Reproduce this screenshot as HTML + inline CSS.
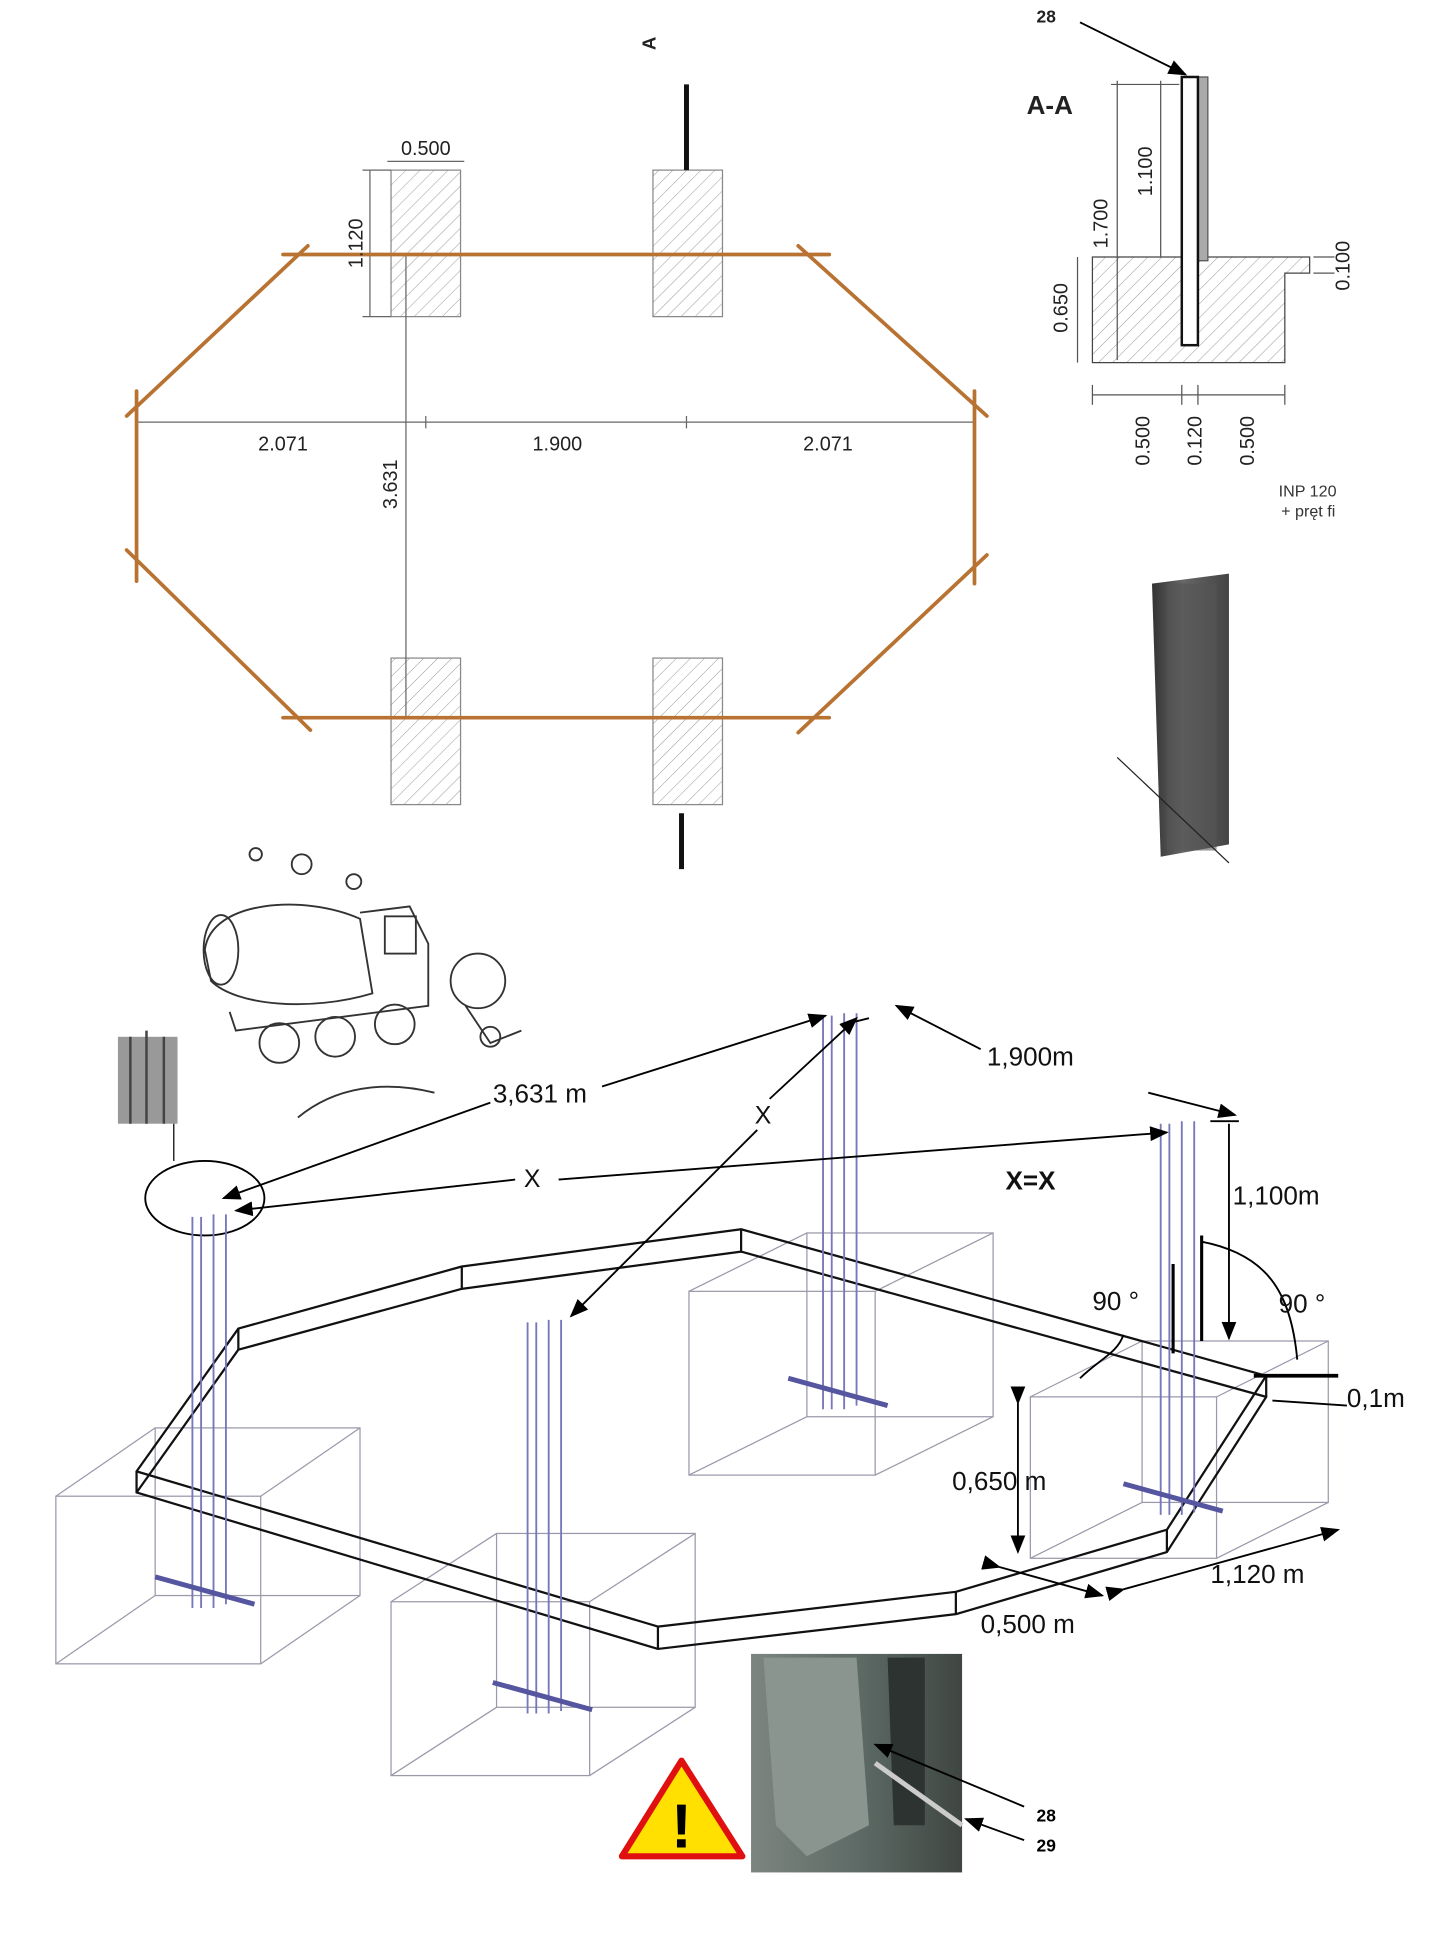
<!DOCTYPE html>
<html><head><meta charset="utf-8"><style>
html,body{margin:0;padding:0;background:#fff;}
svg{display:block;}
text{font-family:"Liberation Sans",sans-serif;}
</style></head><body>
<svg width="1440" height="1937" viewBox="0 0 1160 1560" preserveAspectRatio="none" xmlns="http://www.w3.org/2000/svg">
<defs>
<pattern id="h" width="8" height="8" patternUnits="userSpaceOnUse" patternTransform="rotate(45)">
<line x1="0" y1="0" x2="0" y2="8" stroke="#999" stroke-width="0.8"/></pattern>
<marker id="ar" markerWidth="10" markerHeight="8" refX="9" refY="4" orient="auto"><path d="M0,0 L10,4 L0,8 z" fill="#000"/></marker>
<linearGradient id="ph" x1="0" x2="1"><stop offset="0" stop-color="#7d8580"/><stop offset="0.5" stop-color="#5e6b66"/><stop offset="1" stop-color="#3f4642"/></linearGradient>
<linearGradient id="ib" x1="0" x2="1"><stop offset="0" stop-color="#333"/><stop offset="0.4" stop-color="#666"/><stop offset="1" stop-color="#444"/></linearGradient>
</defs>

<g stroke="#888" stroke-width="1" fill="url(#h)">
<rect x="315" y="137" width="56" height="118"/><rect x="526" y="137" width="56" height="118"/>
<rect x="315" y="530" width="56" height="118"/><rect x="526" y="530" width="56" height="118"/>
</g>
<g stroke="#666" stroke-width="1" fill="none">
<line x1="110" y1="340" x2="785" y2="340"/><line x1="343" y1="335" x2="343" y2="345"/><line x1="553" y1="335" x2="553" y2="345"/>
<line x1="327" y1="205" x2="327" y2="578"/>
<line x1="312" y1="130" x2="374" y2="130"/><line x1="298" y1="137" x2="298" y2="255"/>
<line x1="292" y1="137" x2="315" y2="137"/><line x1="292" y1="255" x2="315" y2="255"/>
</g>
<g stroke="#b87333" stroke-width="3" fill="none" stroke-linecap="round">
<line x1="228" y1="205" x2="668" y2="205"/><line x1="228" y1="578" x2="668" y2="578"/>
<line x1="248" y1="198" x2="102" y2="335"/><line x1="110" y1="315" x2="110" y2="468"/>
<line x1="102" y1="443" x2="250" y2="588"/>
<line x1="643" y1="198" x2="795" y2="335"/><line x1="785" y1="315" x2="785" y2="470"/>
<line x1="795" y1="447" x2="643" y2="590"/>
</g>
<g font-size="16" fill="#222" text-anchor="middle">
<text x="228" y="363">2.071</text><text x="449" y="363">1.900</text><text x="667" y="363">2.071</text>
<text x="343" y="125">0.500</text>
<text transform="translate(292,196) rotate(-90)">1.120</text>
<text transform="translate(320,390) rotate(-90)">3.631</text>
<text transform="translate(528,35) rotate(-90)" font-weight="bold" font-size="15">A</text>
</g>
<line x1="553" y1="68" x2="553" y2="137" stroke="#111" stroke-width="4"/>
<line x1="549" y1="655" x2="549" y2="700" stroke="#111" stroke-width="4"/>

<text x="827" y="92" font-size="21" font-weight="bold" fill="#222">A-A</text>
<text x="835" y="18" font-size="14" font-weight="bold" fill="#222">28</text>
<line x1="870" y1="18" x2="955" y2="60" stroke="#000" stroke-width="1.5" marker-end="url(#ar)"/>
<path d="M880,207 L1055,207 L1055,220 L1035,220 L1035,292 L880,292 z" fill="url(#h)" stroke="#444" stroke-width="1"/>
<rect x="965" y="62" width="8" height="148" fill="#aaa" stroke="#555"/>
<rect x="952" y="62" width="13" height="216" fill="#fff" stroke="#111" stroke-width="2"/>
<g stroke="#555" stroke-width="1" fill="none">
<line x1="900" y1="65" x2="900" y2="290"/><line x1="895" y1="68" x2="950" y2="68"/>
<line x1="935" y1="65" x2="935" y2="207"/>
<line x1="868" y1="207" x2="868" y2="292"/>
<line x1="880" y1="318" x2="1035" y2="318"/>
<line x1="880" y1="310" x2="880" y2="326"/><line x1="952" y1="310" x2="952" y2="326"/><line x1="965" y1="310" x2="965" y2="326"/><line x1="1035" y1="310" x2="1035" y2="326"/>
<line x1="1058" y1="207" x2="1075" y2="207"/><line x1="1058" y1="220" x2="1075" y2="220"/>
</g>
<g font-size="16" fill="#222" text-anchor="middle">
<text transform="translate(892,180) rotate(-90)">1.700</text>
<text transform="translate(928,138) rotate(-90)">1.100</text>
<text transform="translate(860,248) rotate(-90)">0.650</text>
<text transform="translate(926,355) rotate(-90)">0.500</text>
<text transform="translate(968,355) rotate(-90)">0.120</text>
<text transform="translate(1010,355) rotate(-90)">0.500</text>
<text transform="translate(1087,214) rotate(-90)">0.100</text>
</g>
<text x="1030" y="400" font-size="13" fill="#333">INP 120</text>
<text x="1032" y="416" font-size="13" fill="#333">+ pręt fi</text>
<path d="M928,470 L990,462 L990,680 L935,690 z" fill="url(#ib)"/>
<rect x="940" y="470" width="40" height="215" fill="#555" opacity="0.6"/>
<line x1="900" y1="610" x2="990" y2="695" stroke="#222" stroke-width="1"/>

<g stroke="#333" stroke-width="1.5" fill="none">
<circle cx="206" cy="688" r="5"/><circle cx="243" cy="696" r="8"/><circle cx="285" cy="710" r="6"/>
<path d="M165,765 C170,725 245,720 290,740 L300,800 C250,815 190,810 170,790 z"/>
<ellipse cx="178" cy="765" rx="14" ry="28"/>
<path d="M290,735 L330,730 L345,760 L345,810 L190,830 L185,815"/>
<rect x="310" y="738" width="25" height="30"/>
<circle cx="225" cy="840" r="16"/><circle cx="270" cy="835" r="16"/><circle cx="318" cy="825" r="16"/>
<path d="M240,900 C270,875 310,870 350,880"/>
<circle cx="385" cy="790" r="22"/><path d="M375,810 L395,840 L420,830"/><circle cx="395" cy="835" r="8"/>
</g>
<rect x="95" y="835" width="48" height="70" fill="#999"/>
<g stroke="#444" stroke-width="2"><line x1="105" y1="835" x2="105" y2="905"/><line x1="118" y1="830" x2="118" y2="905"/><line x1="132" y1="835" x2="132" y2="905"/></g>
<line x1="140" y1="905" x2="140" y2="935" stroke="#000"/>
<ellipse cx="165" cy="965" rx="48" ry="30" fill="none" stroke="#000" stroke-width="1.5"/>

<g stroke="#99a" stroke-width="1" fill="none">
<rect x="45" y="1205" width="165" height="135"/><rect x="125" y="1150" width="165" height="135"/>
<line x1="45" y1="1205" x2="125" y2="1150"/><line x1="210" y1="1205" x2="290" y2="1150"/><line x1="210" y1="1340" x2="290" y2="1285"/><line x1="45" y1="1340" x2="125" y2="1285"/>
<rect x="315" y="1290" width="160" height="140"/><rect x="400" y="1235" width="160" height="140"/>
<line x1="315" y1="1290" x2="400" y2="1235"/><line x1="475" y1="1290" x2="560" y2="1235"/><line x1="475" y1="1430" x2="560" y2="1375"/><line x1="315" y1="1430" x2="400" y2="1375"/>
<rect x="555" y="1040" width="150" height="148"/><rect x="650" y="993" width="150" height="148"/>
<line x1="555" y1="1040" x2="650" y2="993"/><line x1="705" y1="1040" x2="800" y2="993"/><line x1="705" y1="1188" x2="800" y2="1141"/><line x1="555" y1="1188" x2="650" y2="1141"/>
<rect x="830" y="1125" width="150" height="130"/><rect x="920" y="1080" width="150" height="130"/>
<line x1="830" y1="1125" x2="920" y2="1080"/><line x1="980" y1="1125" x2="1070" y2="1080"/><line x1="980" y1="1255" x2="1070" y2="1210"/><line x1="830" y1="1255" x2="920" y2="1210"/>
</g>
<g stroke="#111" stroke-width="1.8" fill="none" stroke-linejoin="round">
<path d="M110,1185 L192,1070 L372,1020 L597,990 L1020,1108 L940,1232 L770,1282 L530,1310 z"/>
<path d="M110,1202 L192,1087 L372,1038 L597,1008 L1020,1125 L940,1250 L770,1300 L530,1328 z"/>
<line x1="110" y1="1185" x2="110" y2="1202"/><line x1="192" y1="1070" x2="192" y2="1087"/><line x1="372" y1="1020" x2="372" y2="1038"/><line x1="597" y1="990" x2="597" y2="1008"/><line x1="530" y1="1310" x2="530" y2="1328"/><line x1="770" y1="1282" x2="770" y2="1300"/><line x1="940" y1="1232" x2="940" y2="1250"/><line x1="1020" y1="1108" x2="1020" y2="1125"/>
</g>
<g stroke="#7777bb" stroke-width="1.5" fill="none">
<g><line x1="155" y1="980" x2="155" y2="1295"/><line x1="162" y1="980" x2="162" y2="1295"/><line x1="172" y1="978" x2="172" y2="1295"/><line x1="182" y1="978" x2="182" y2="1292"/></g>
<g><line x1="425" y1="1065" x2="425" y2="1380"/><line x1="432" y1="1065" x2="432" y2="1380"/><line x1="442" y1="1063" x2="442" y2="1380"/><line x1="452" y1="1063" x2="452" y2="1378"/></g>
<g><line x1="663" y1="818" x2="663" y2="1135"/><line x1="670" y1="818" x2="670" y2="1135"/><line x1="680" y1="816" x2="680" y2="1135"/><line x1="690" y1="816" x2="690" y2="1132"/></g>
<g><line x1="935" y1="905" x2="935" y2="1220"/><line x1="942" y1="905" x2="942" y2="1220"/><line x1="952" y1="903" x2="952" y2="1220"/><line x1="962" y1="903" x2="962" y2="1218"/></g>
</g>
<g stroke="#5555a0" stroke-width="4">
<line x1="125" y1="1270" x2="205" y2="1292"/><line x1="397" y1="1355" x2="477" y2="1377"/>
<line x1="635" y1="1110" x2="715" y2="1132"/><line x1="905" y1="1195" x2="985" y2="1217"/>
</g>

<g stroke="#000" stroke-width="1.5" fill="none">
<line x1="395" y1="888" x2="180" y2="965" marker-end="url(#ar)"/><line x1="485" y1="875" x2="665" y2="818" marker-end="url(#ar)"/>
<line x1="415" y1="950" x2="190" y2="975" marker-end="url(#ar)"/><line x1="450" y1="950" x2="940" y2="912" marker-end="url(#ar)"/>
<line x1="610" y1="910" x2="460" y2="1060" marker-end="url(#ar)"/><line x1="620" y1="885" x2="690" y2="820" marker-end="url(#ar)"/>
<line x1="790" y1="845" x2="722" y2="810" marker-end="url(#ar)"/><line x1="700" y1="820" x2="680" y2="825"/>
<line x1="925" y1="880" x2="995" y2="898" marker-end="url(#ar)"/>
<line x1="990" y1="905" x2="990" y2="1078" marker-end="url(#ar)"/><line x1="975" y1="903" x2="998" y2="903"/>
<line x1="968" y1="995" x2="968" y2="1080" stroke-width="2.5"/>
<line x1="945" y1="1018" x2="945" y2="1090" stroke-width="2.5"/>
<path d="M968,1000 C1020,1010 1040,1040 1045,1095"/>
<path d="M870,1110 C885,1095 900,1090 905,1075"/>
<line x1="1010" y1="1108" x2="1078" y2="1108" stroke-width="3"/>
<line x1="1025" y1="1128" x2="1085" y2="1132"/>
<line x1="820" y1="1130" x2="820" y2="1250" marker-start="url(#ar)" marker-end="url(#ar)"/>
<line x1="805" y1="1262" x2="888" y2="1285" marker-start="url(#ar)" marker-end="url(#ar)"/>
<line x1="905" y1="1280" x2="1078" y2="1232" marker-start="url(#ar)" marker-end="url(#ar)"/>
</g>
<g font-size="21" fill="#111">
<text x="397" y="888">3,631 m</text><text x="795" y="858">1,900m</text>
<text x="608" y="905" font-size="20">X</text><text x="422" y="956" font-size="20">X</text>
<text x="810" y="958" font-weight="bold">X=X</text>
<text x="993" y="970">1,100m</text>
<text x="880" y="1055">90 °</text><text x="1030" y="1057">90 °</text>
<text x="1085" y="1133">0,1m</text>
<text x="767" y="1200">0,650 m</text>
<text x="975" y="1275">1,120 m</text>
<text x="790" y="1315">0,500 m</text>
</g>
<path d="M549,1418 L598,1495 L501,1495 z" fill="#ffe000" stroke="#e01010" stroke-width="5" stroke-linejoin="round"/>
<text x="549" y="1488" font-size="50" font-weight="bold" text-anchor="middle" fill="#000">!</text>
<rect x="605" y="1332" width="170" height="176" fill="url(#ph)"/>
<path d="M615,1335 L690,1335 L700,1470 L650,1495 L625,1470 z" fill="#8a9590"/>
<path d="M715,1335 L745,1335 L745,1470 L720,1470 z" fill="#2d3330"/>
<line x1="705" y1="1420" x2="775" y2="1470" stroke="#ccc" stroke-width="4"/>
<g stroke="#000" stroke-width="1.5"><line x1="825" y1="1455" x2="705" y2="1405" marker-end="url(#ar)"/><line x1="825" y1="1482" x2="778" y2="1465" marker-end="url(#ar)"/></g>
<text x="835" y="1467" font-size="14" font-weight="bold">28</text><text x="835" y="1491" font-size="14" font-weight="bold">29</text>
</svg>
</body></html>
